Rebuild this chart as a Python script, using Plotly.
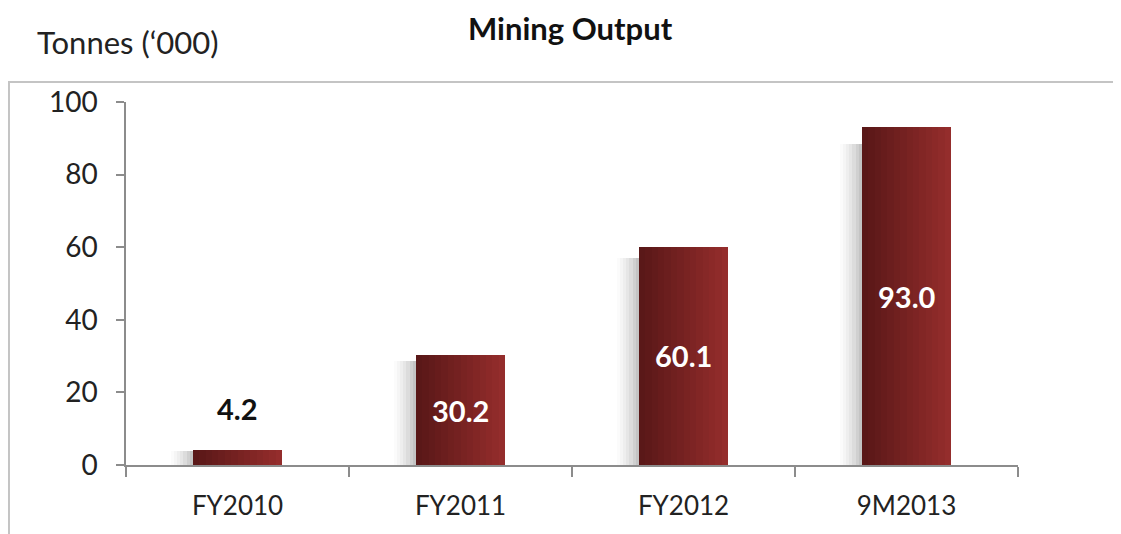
import plotly.graph_objects as go
import numpy as np

categories = ["FY2010", "FY2011", "FY2012", "9M2013"]
values = [4.2, 30.2, 60.1, 93.0]
labels = ["4.2", "30.2", "60.1", "93.0"]
y_ticks = [0, 20, 40, 60, 80, 100]

FONT = "Lato"
BAR_W = 0.4
N_SLICES = 14
dark = np.array([0x5a, 0x18, 0x18])
light = np.array([0x94, 0x2d, 0x2c])

fig = go.Figure()

# soft shadow on left of each bar
shadow_cols = ["#fbfbfb", "#f5f5f5", "#eeeeee", "#e6e6e6", "#dcdcdc", "#d0d0d0", "#c4c4c4"]
SH_W = 0.1
sw = SH_W / len(shadow_cols)
for k, c in enumerate(shadow_cols):
    fig.add_trace(go.Bar(
        x=categories, y=[v * 0.95 for v in values], width=sw * 1.02,
        offset=-BAR_W / 2 - SH_W + k * sw,
        marker=dict(color=c, line=dict(width=0)),
        hoverinfo="skip", showlegend=False))

# gradient bars built from slices
w = BAR_W / N_SLICES
for k in range(N_SLICES):
    t = k / (N_SLICES - 1)
    rgb = (dark + (light - dark) * t).astype(int)
    fig.add_trace(go.Bar(
        x=categories, y=values, width=w * 1.02,
        offset=-BAR_W / 2 + k * w,
        marker=dict(color=f"rgb({rgb[0]},{rgb[1]},{rgb[2]})", line=dict(width=0)),
        hoverinfo="skip", showlegend=False))

# value labels
for c, v, lab in zip(categories, values, labels):
    if v < 10:
        fig.add_annotation(x=c, y=v, text=f"<b>{lab}</b>", showarrow=False,
                           yanchor="bottom", yshift=22,
                           font=dict(family=FONT, size=29, color="#111111"))
    else:
        fig.add_annotation(x=c, y=v / 2, text=f"<b>{lab}</b>", showarrow=False,
                           yanchor="middle",
                           font=dict(family=FONT, size=29, color="white"))

# outer frame
fig.add_shape(type="rect", xref="paper", yref="paper",
              x0=-0.1312, y0=-0.4, x1=1.2, y1=1.0551,
              line=dict(color="#c4c4c4", width=2), layer="below")

fig.add_annotation(xref="paper", yref="paper", x=-0.102, y=1.165,
                   xanchor="left", yanchor="middle", showarrow=False,
                   text="Tonnes (‘000)",
                   font=dict(family=FONT, size=31, color="#222222"))
fig.add_annotation(xref="paper", yref="paper", x=0.498, y=1.204,
                   xanchor="center", yanchor="middle", showarrow=False,
                   text="<b>Mining Output</b>",
                   font=dict(family=FONT, size=31, color="#111111"))

fig.update_layout(
    width=1121, height=534,
    margin=dict(l=118, r=111, t=94, b=77),
    paper_bgcolor="white", plot_bgcolor="white",
    barmode="overlay", bargap=0,
    showlegend=False,
    xaxis=dict(type="category", categoryorder="array", categoryarray=categories,
               showline=True, linecolor="#8c8c8c", linewidth=1.5,
               ticks="outside", tickson="boundaries", ticklen=10,
               tickcolor="#8c8c8c", tickwidth=1.5,
               tickfont=dict(family=FONT, size=26, color="#222222"),
               ticklabelstandoff=17, showgrid=False, zeroline=False),
    yaxis=dict(range=[0, 100], tickvals=y_ticks,
               showline=True, linecolor="#8c8c8c", linewidth=1.5,
               ticks="outside", ticklen=8, tickcolor="#8c8c8c", tickwidth=1.5,
               tickfont=dict(family=FONT, size=28, color="#222222"),
               ticklabelstandoff=13, showgrid=False, zeroline=False),
)

fig.write_html("out.html")
